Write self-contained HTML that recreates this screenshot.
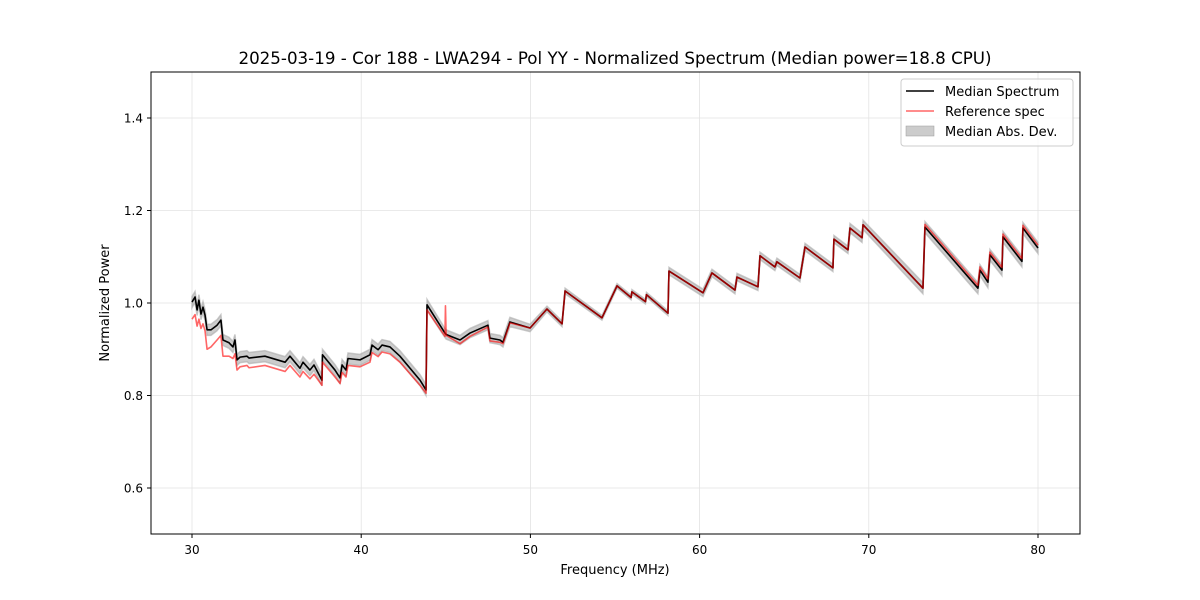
<!DOCTYPE html>
<html><head><meta charset="utf-8"><style>
body{margin:0;background:#fff;}
svg{display:block;font-family:"DejaVu Sans","Liberation Sans",sans-serif;}
</style></head><body>
<svg id="chart" width="1200" height="600" xmlns="http://www.w3.org/2000/svg">
<rect width="1200" height="600" fill="#fff"/>
<text x="615" y="64" font-size="16.7" text-anchor="middle">2025-03-19 - Cor 188 - LWA294 - Pol YY - Normalized Spectrum (Median power=18.8 CPU)</text>
<g id="grid"></g>
<g id="band"></g>
<g id="lines"></g>
<rect x="151" y="72" width="929" height="462" fill="none" stroke="#000" stroke-width="1"/>
<g id="ticks"></g>
<text x="615" y="574" font-size="13" text-anchor="middle">Frequency (MHz)</text>
<text transform="translate(109,303) rotate(-90)" font-size="13" text-anchor="middle">Normalized Power</text>
<g>
<rect x="901" y="79" width="172" height="67" rx="3" fill="#fff" fill-opacity="0.8" stroke="#ccc"/>
<line x1="906" y1="91" x2="934" y2="91" stroke="#000" stroke-width="1.5"/>
<text x="945" y="96" font-size="13">Median Spectrum</text>
<line x1="906" y1="111" x2="934" y2="111" stroke="#f00" stroke-opacity="0.6" stroke-width="1.5"/>
<text x="945" y="116" font-size="13">Reference spec</text>
<rect x="906" y="126" width="28" height="10" fill="#aaa" fill-opacity="0.6" stroke="#999" stroke-width="0.5"/>
<text x="945" y="136" font-size="13">Median Abs. Dev.</text>
</g>
</svg>
<script>
const freqs=[30.00,30.18,30.30,30.41,30.53,30.65,30.77,30.89,31.12,31.48,31.71,31.83,32.19,32.42,32.54,32.66,32.84,33.25,33.37,34.31,35.50,35.79,36.38,36.56,36.97,37.21,37.68,37.71,38.45,38.75,38.87,39.10,39.22,39.93,40.52,40.64,41.00,41.23,41.70,42.29,43.48,43.83,43.89,44.95,44.98,45.02,45.84,46.43,47.49,47.61,48.20,48.38,48.79,49.98,50.98,51.87,52.05,54.23,55.12,55.95,56.00,56.80,56.86,58.13,58.19,60.20,60.73,62.09,62.21,63.45,63.57,64.45,64.57,65.93,66.23,67.88,67.94,68.77,68.89,69.60,69.66,73.20,73.32,76.45,76.57,77.04,77.16,77.87,77.93,79.05,79.11,80.00];
const median=[1.002,1.013,0.985,1.006,0.976,0.991,0.974,0.942,0.942,0.952,0.963,0.920,0.914,0.905,0.920,0.877,0.883,0.885,0.881,0.885,0.872,0.885,0.859,0.872,0.855,0.866,0.833,0.888,0.855,0.838,0.866,0.855,0.880,0.877,0.888,0.909,0.899,0.909,0.905,0.885,0.833,0.812,0.996,0.935,0.934,0.932,0.920,0.935,0.952,0.924,0.920,0.915,0.959,0.946,0.987,0.955,1.026,0.968,1.037,1.012,1.024,1.003,1.018,0.978,1.069,1.022,1.065,1.028,1.056,1.035,1.102,1.078,1.089,1.054,1.121,1.076,1.138,1.115,1.162,1.141,1.169,1.032,1.164,1.032,1.071,1.045,1.104,1.071,1.143,1.090,1.162,1.119];
const reference=[0.965,0.975,0.950,0.965,0.945,0.955,0.940,0.900,0.905,0.920,0.930,0.885,0.885,0.880,0.890,0.855,0.862,0.865,0.860,0.865,0.852,0.865,0.840,0.852,0.836,0.846,0.822,0.872,0.840,0.826,0.850,0.840,0.865,0.862,0.872,0.893,0.884,0.894,0.890,0.872,0.822,0.805,0.985,0.928,0.994,0.930,0.912,0.928,0.948,0.918,0.915,0.912,0.957,0.946,0.987,0.955,1.026,0.968,1.037,1.012,1.024,1.003,1.018,0.978,1.069,1.022,1.065,1.028,1.056,1.035,1.102,1.078,1.089,1.054,1.121,1.076,1.138,1.115,1.162,1.141,1.169,1.032,1.170,1.038,1.078,1.052,1.110,1.077,1.149,1.096,1.168,1.125];
const mad=[0.012,0.012,0.012,0.012,0.012,0.012,0.012,0.012,0.012,0.012,0.012,0.012,0.012,0.012,0.012,0.012,0.012,0.012,0.012,0.012,0.012,0.012,0.012,0.012,0.012,0.012,0.012,0.012,0.012,0.012,0.012,0.012,0.012,0.012,0.012,0.012,0.012,0.012,0.012,0.012,0.012,0.012,0.012,0.010,0.010,0.010,0.010,0.010,0.010,0.010,0.010,0.010,0.010,0.008,0.006,0.006,0.006,0.005,0.005,0.005,0.005,0.005,0.005,0.005,0.008,0.008,0.008,0.008,0.008,0.008,0.008,0.008,0.008,0.008,0.008,0.008,0.008,0.008,0.010,0.010,0.010,0.012,0.012,0.012,0.012,0.012,0.012,0.012,0.012,0.012,0.012,0.012];
const xTicks=[30,40,50,60,70,80];
const yTicks=[0.6,0.8,1.0,1.2,1.4];
const yTickLabels=["0.6","0.8","1.0","1.2","1.4"];

const NS="http://www.w3.org/2000/svg";
const X=f=>192+(f-30)*16.92;
const Y=p=>534.25-(p-0.5)*462.5;
const grid=document.getElementById('grid'),ticks=document.getElementById('ticks');
function mk(tag,attrs,parent){const e=document.createElementNS(NS,tag);for(const k in attrs)e.setAttribute(k,attrs[k]);parent.appendChild(e);return e;}
xTicks.forEach(t=>{
 const gl=mk('line',{x1:X(t),x2:X(t),y1:72,y2:534,stroke:'#e3e3e3','stroke-width':0.8},grid);
 
 
 mk('line',{x1:X(t),x2:X(t),y1:534,y2:538,stroke:'#000'},ticks);
 const tx=mk('text',{x:X(t),y:554,'font-size':12,'text-anchor':'middle'},ticks);
 tx.textContent=t;
 
 
});
yTicks.forEach((t,i)=>{
 const gl=mk('line',{x1:151,x2:1080,y1:Y(t),y2:Y(t),stroke:'#e3e3e3','stroke-width':0.8},grid);
 
 
 mk('line',{x1:147,x2:151,y1:Y(t),y2:Y(t),stroke:'#000'},ticks);
 const tx=mk('text',{x:143,y:Y(t)+4.5,'font-size':12,'text-anchor':'end'},ticks);
 tx.textContent=yTickLabels[i];
 
 
});
let up=freqs.map((f,i)=>X(f)+','+Y(median[i]+mad[i]));
let lo=freqs.map((f,i)=>X(f)+','+Y(median[i]-mad[i])).reverse();
const band=mk('polygon',{points:up.concat(lo).join(' '),fill:'#aaa','fill-opacity':0.6,stroke:'#aaa','stroke-opacity':0.6,'stroke-width':1.5},document.getElementById('band'));


const L=document.getElementById('lines');
const ml=mk('polyline',{points:freqs.map((f,i)=>X(f)+','+Y(median[i])).join(' '),fill:'none',stroke:'#000','stroke-width':1.6,'stroke-linejoin':'round'},L);


const rl=mk('polyline',{points:freqs.map((f,i)=>X(f)+','+Y(reference[i])).join(' '),fill:'none',stroke:'#f00','stroke-opacity':0.6,'stroke-width':1.6,'stroke-linejoin':'round'},L);


</script>
</body></html>
